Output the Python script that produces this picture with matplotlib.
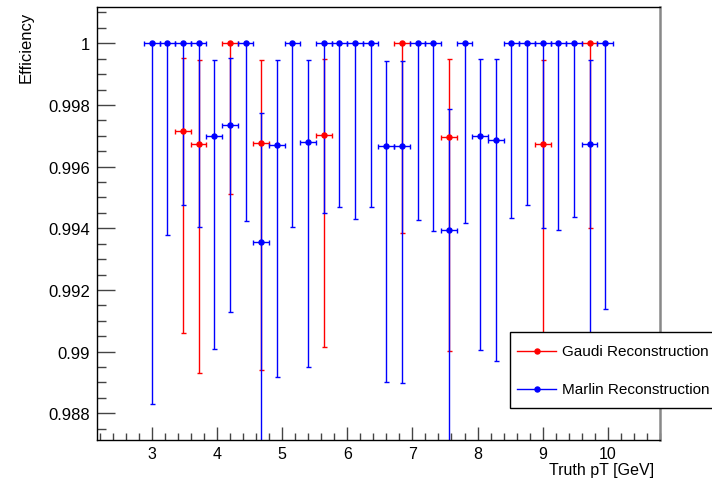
import matplotlib

matplotlib.use("Agg")
import matplotlib.pyplot as plt
from matplotlib.lines import Line2D
from matplotlib.patches import Rectangle
from matplotlib.ticker import FuncFormatter, MultipleLocator

plt.rcParams["font.family"] = ["Liberation Sans", "DejaVu Sans"]

NA = float("nan")  # Gaudi point sits exactly under the Marlin one, nothing to read

# bin centres of truth pT (GeV), bins are 0.24 wide
pt_centers = [3.00, 3.24, 3.48, 3.72, 3.96, 4.20, 4.44, 4.68, 4.92, 5.16,
              5.40, 5.64, 5.88, 6.12, 6.36, 6.60, 6.84, 7.08, 7.32, 7.56,
              7.80, 8.04, 8.28, 8.52, 8.76, 9.00, 9.24, 9.48, 9.72, 9.96]
pt_half_width = 0.12

# Gaudi reconstruction: efficiency and its confidence interval
gaudi_eff = [NA, NA, 0.99715, 0.99674, NA, 1.0, NA, 0.99678, NA, NA,
             NA, 0.99702, NA, NA, NA, NA, 1.0, NA, NA, 0.99696,
             NA, NA, NA, NA, NA, 0.99674, NA, NA, 1.0, NA]
gaudi_lo = [NA, NA, 0.99060, 0.98931, NA, 0.99511, NA, 0.98940, NA, NA,
            NA, 0.99014, NA, NA, NA, NA, 0.99386, NA, NA, 0.99002,
            NA, NA, NA, NA, NA, 0.98890, NA, NA, 0.99401, NA]
gaudi_hi = [NA, NA, 0.99951, 0.99945, NA, 1.0, NA, 0.99945, NA, NA,
            NA, 0.99948, NA, NA, NA, NA, 1.0, NA, NA, 0.99948,
            NA, NA, NA, NA, NA, 0.99945, NA, NA, 1.0, NA]

# Marlin reconstruction
marlin_eff = [1.0, 1.0, 1.0, 1.0, 0.99699, 0.99736, 1.0, 0.99356, 0.99671, 1.0,
              0.99681, 1.0, 1.0, 1.0, 1.0, 0.99666, 0.99666, 1.0, 1.0, 0.99394,
              1.0, 0.99699, 0.99686, 1.0, 1.0, 1.0, 1.0, 1.0, 0.99674, 1.0]
marlin_lo = [0.98829, 0.99379, 0.99475, 0.99404, 0.99008, 0.99128, 0.99423, 0.98600, 0.98919, 0.99403,
             0.98949, 0.99450, 0.99468, 0.99431, 0.99468, 0.98903, 0.98899, 0.99428, 0.99391, 0.98600,
             0.99416, 0.99004, 0.98969, 0.99432, 0.99475, 0.99401, 0.99395, 0.99438, 0.98900, 0.99137]
marlin_hi = [1.0, 1.0, 1.0, 1.0, 0.99947, 0.99953, 1.0, 0.99773, 0.99945, 1.0,
             0.99945, 1.0, 1.0, 1.0, 1.0, 0.99942, 0.99942, 1.0, 1.0, 0.99786,
             1.0, 0.99948, 0.99948, 1.0, 1.0, 1.0, 1.0, 1.0, 0.99945, 1.0]

series = [
    ("Gaudi Reconstruction", "#ff0000", gaudi_eff, gaudi_lo, gaudi_hi),
    ("Marlin Reconstruction", "#0000ff", marlin_eff, marlin_lo, marlin_hi),
]

fig = plt.figure(figsize=(7.12, 4.81), dpi=100)
ax = fig.add_axes([97 / 712, 40 / 481, 563 / 712, 433 / 481])

for label, color, eff, lo, hi in series:
    yerr = [[e - l for e, l in zip(eff, lo)], [h - e for e, h in zip(eff, hi)]]
    ax.errorbar(pt_centers, eff, xerr=pt_half_width, yerr=yerr, fmt="o", color=color,
                ms=3.6, lw=1.0, elinewidth=1.0, capsize=1.8, capthick=1.0, label=label)

ax.set_xlim(2.16, 10.8)
ax.set_ylim(0.987134, 1.001177)

ax.xaxis.set_major_locator(MultipleLocator(1))
ax.xaxis.set_minor_locator(MultipleLocator(0.2))
ax.yaxis.set_major_locator(MultipleLocator(0.002))
ax.yaxis.set_minor_locator(MultipleLocator(0.0005))
ax.yaxis.set_major_formatter(FuncFormatter(lambda v, _: f"{v:g}"))
ax.xaxis.set_major_formatter(FuncFormatter(lambda v, _: f"{v:g}"))

ax.tick_params(axis="x", which="major", direction="in", length=9.5, width=1, labelsize=11.5, pad=4.5)
ax.tick_params(axis="x", which="minor", direction="in", length=4.7, width=1)
ax.tick_params(axis="y", which="major", direction="in", length=13, width=1, labelsize=12, pad=5)
ax.tick_params(axis="y", which="minor", direction="in", length=6.5, width=1)
ax.tick_params(which="both", colors="#444444", labelcolor="black")

for side in ("top", "bottom", "left"):
    ax.spines[side].set_color("black")
    ax.spines[side].set_linewidth(1.0)
ax.spines["right"].set_color("#888888")
ax.spines["right"].set_linewidth(1.8)

ax.text(-0.126, 0.991, "Efficiency", transform=ax.transAxes, rotation=90,
        ha="center", va="top", fontsize=12)
ax.text(0.989, -0.0785, "Truth pT [GeV]", transform=ax.transAxes,
        ha="right", va="baseline", fontsize=11.5)

# ROOT-style legend box, runs off the right edge of the canvas
W, H = 712, 481
fig.patches.append(Rectangle((510 / W, 1 - 409 / H), 220 / W, 76 / H, transform=fig.transFigure,
                             facecolor="white", edgecolor="black", lw=1.0, zorder=5, clip_on=False))
for (label, color, *_), ypx in zip(series, (352, 390)):
    fig.lines.append(Line2D([517 / W, 556 / W], [1 - ypx / H] * 2, transform=fig.transFigure,
                            color=color, lw=1.0, zorder=6))
    fig.lines.append(Line2D([537 / W], [1 - ypx / H], transform=fig.transFigure,
                            color=color, marker="o", ms=3.6, zorder=6))
    fig.text(562 / W, 1 - ypx / H, label, ha="left", va="center", fontsize=11, zorder=7)

fig.savefig("out.png", dpi=100)
